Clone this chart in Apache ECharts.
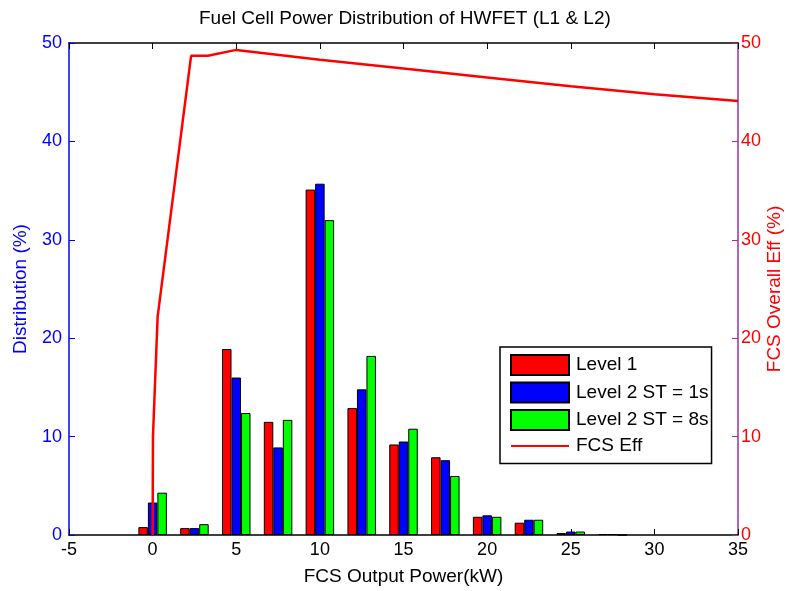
<!DOCTYPE html>
<html>
<head>
<meta charset="utf-8">
<script src="https://cdn.jsdelivr.net/npm/echarts@6/dist/echarts.min.js"></script>
<style>
  html, body { margin: 0; padding: 0; background: #fff; }
  #chart { width: 789px; height: 591px; }
</style>
</head>
<body>
<div id="chart"></div>
<script>
// Output power bins (kW) where each group of bars sits
const powerBins = [0, 2.5, 5, 7.5, 10, 12.5, 15, 17.5, 20, 22.5, 25, 27.5];
// Share of time spent in each bin (%)
const level1   = [0.8, 0.7, 18.9, 11.5, 35.1, 12.9, 9.2, 7.9, 1.85, 1.25, 0.2, 0.1];
const level2St1 = [3.3, 0.7, 16.0, 8.9, 35.7, 14.8, 9.5, 7.6, 2.0, 1.55, 0.35, 0.1];
const level2St8 = [4.3, 1.1, 12.4, 11.7, 32.0, 18.2, 10.8, 6.0, 1.85, 1.55, 0.35, 0.0];
// Fuel cell system overall efficiency curve
const effPower = [0, 0.02, 0.3, 2.3, 3.3, 5, 10, 15, 20, 25, 30, 35];
const effValue = [0, 10, 22.2, 48.7, 48.7, 49.3, 48.3, 47.4, 46.5, 45.6, 44.8, 44.1];

const seriesNames = ['Level 1', 'Level 2 ST = 1s', 'Level 2 ST = 8s'];
const seriesColors = ['#ff0000', '#0000ff', '#00ff00'];
const seriesData = [level1, level2St1, level2St8];

const FONT = 'Liberation Sans, Arial, Helvetica, sans-serif';
const FS = 18;     // tick labels
const FS_NAME = 19; // title, axis names, legend

const chart = echarts.init(document.getElementById('chart'), null, { renderer: 'canvas' });

const barSeries = seriesData.map((vals, i) => ({
  name: seriesNames[i],
  type: 'bar',
  xAxisIndex: 0,
  yAxisIndex: 0,
  barWidth: 9.5,
  barGap: '0%',
  data: powerBins.map((p, k) => [p, vals[k]]),
  itemStyle: { color: seriesColors[i], borderColor: '#000', borderWidth: 1 },
  emphasis: { disabled: true },
  z: 2
}));

const option = {
  animation: false,
  backgroundColor: '#fff',
  title: {
    text: 'Fuel Cell Power Distribution of HWFET (L1 & L2)',
    // centred over the plot area rather than the whole canvas
    left: 199,
    top: 4,
    padding: [5, 0, 5, 0],
    textStyle: { fontFamily: FONT, fontSize: FS_NAME, fontWeight: 'normal', color: '#000' }
  },
  grid: { left: 69, right: 51, top: 43, bottom: 56, containLabel: false, outerBoundsMode: 'none' },
  legend: {
    orient: 'vertical',
    left: 500,
    top: 347,
    itemWidth: 58,
    itemHeight: 20,
    itemGap: 5.5,
    padding: [7, 3, 8, 10],
    borderColor: '#000',
    borderWidth: 1.5,
    backgroundColor: '#fff',
    textStyle: { fontFamily: FONT, fontSize: FS_NAME, color: '#000', padding: [0, 0, 0, 2] },
    data: [
      { name: seriesNames[0], icon: 'rect' },
      { name: seriesNames[1], icon: 'rect' },
      { name: seriesNames[2], icon: 'rect' },
      { name: 'FCS Eff', itemStyle: { opacity: 0 } }
    ]
  },
  xAxis: [
    {
      type: 'value', position: 'bottom', min: -5, max: 35, interval: 5,
      name: 'FCS Output Power(kW)', nameLocation: 'middle', nameGap: 32,
      nameMoveOverlap: false,
      nameTextStyle: { fontFamily: FONT, fontSize: FS_NAME, color: '#000' },
      axisLine: { onZero: false, lineStyle: { color: '#000', width: 1.5 } },
      axisTick: { inside: true, length: 6, lineStyle: { color: '#000' } },
      axisLabel: { fontFamily: FONT, fontSize: FS, color: '#000', margin: 6 },
      splitLine: { show: false }
    },
    {
      type: 'value', position: 'top', min: -5, max: 35, interval: 5,
      axisLine: { onZero: false, lineStyle: { color: '#000', width: 1.5 } },
      axisTick: { inside: true, length: 6, lineStyle: { color: '#000' } },
      axisLabel: { show: false },
      splitLine: { show: false }
    }
  ],
  yAxis: [
    {
      type: 'value', position: 'left', min: 0, max: 50, interval: 10,
      name: 'Distribution (%)', nameLocation: 'middle', nameGap: 39,
      nameMoveOverlap: false,
      nameTextStyle: { fontFamily: FONT, fontSize: FS_NAME, color: '#0000ff' },
      axisLine: { show: true, onZero: false, lineStyle: { color: '#0000ff', width: 1.5 } },
      axisTick: { show: true, inside: true, length: 6, lineStyle: { color: '#0000ff' } },
      axisLabel: { fontFamily: FONT, fontSize: FS, color: '#0000ff', margin: 7 },
      splitLine: { show: false }
    },
    {
      type: 'value', position: 'right', min: 0, max: 50, interval: 10,
      name: 'FCS Overall Eff (%)', nameLocation: 'middle', nameGap: 27, nameRotate: 90,
      nameMoveOverlap: false,
      nameTextStyle: { fontFamily: FONT, fontSize: FS_NAME, color: '#ff0000' },
      axisLine: { show: true, onZero: false, lineStyle: { color: '#9a2fa0', width: 1.5 } },
      axisTick: { show: true, inside: true, length: 6, lineStyle: { color: '#c0208a' } },
      axisLabel: { fontFamily: FONT, fontSize: FS, color: '#ff0000', margin: 3 },
      splitLine: { show: false }
    }
  ],
  series: barSeries.concat([{
    name: 'FCS Eff',
    type: 'line',
    xAxisIndex: 0,
    yAxisIndex: 1,
    symbol: 'none',
    data: effPower.map((p, k) => [p, effValue[k]]),
    lineStyle: { color: '#ff0000', width: 2.5 },
    itemStyle: { color: '#ff0000' },
    emphasis: { disabled: true },
    z: 5
  }])
};

chart.setOption(option);
</script>
</body>
</html>
